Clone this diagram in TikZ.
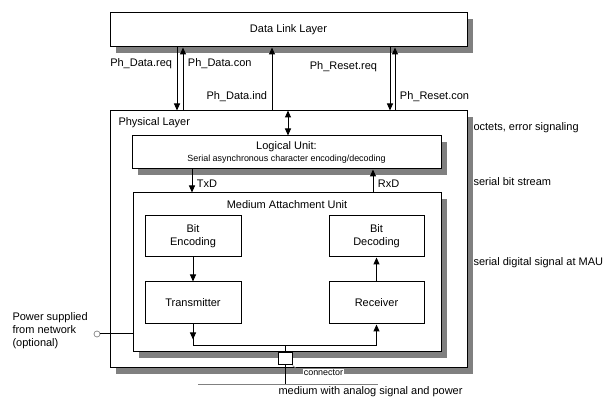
\documentclass[tikz,border=0pt]{standalone}
\usepackage{fontspec}
\setmainfont{Liberation Sans}
\usepackage{tikz}
\usetikzlibrary{
    calc,
    arrows.meta,
    shadows % For the grey drop shadows
}
\newcommand{\smallfont}{\fontsize{6.7pt}{8pt}\selectfont}
\tikzset{
    every node/.style={font=\fontsize{8.25pt}{9.75pt}\selectfont},
    box/.style 2 args={draw, fill=white, inner sep=0pt, align=center,
        minimum width=#1*0.75pt, minimum height=#2*0.75pt},
    dropgray/.style={drop shadow={shadow xshift=4.5pt, shadow yshift=-4.5pt, opacity=1, fill=gray}},
    lbl/.style={anchor=west, inner sep=0pt},
    >={Triangle[length=5.25pt, width=4.5pt]},
}

\begin{document}
\begin{tikzpicture}[x=0.75pt, y=-0.75pt, line width=0.75pt]
        \useasboundingbox (0,0) rectangle (606,398);

        % layers
        \draw (288.5,30) node[box={357}{34}, dropgray](dll){Data Link Layer};
        \draw (288.5,239.5) node[box={357}{257}, dropgray](phy){};
        \draw (286.5,152.5) node[box={309}{33}, dropgray](lu){Logical Unit:\\[-0.5pt]{\smallfont Serial asynchronous character encoding/decoding}};
        \draw (287,272.5) node[box={308}{159}, dropgray](mau){};
        \draw (118,123) node[lbl](phylbl){Physical Layer};
        \draw (287,205) node(maulbl){Medium Attachment Unit};

        % inside the MAU
        \draw (193,236.5) node[box={96}{41}](benc){Bit\\Encoding};
        \draw (376.5,236.5) node[box={95}{41}](bdec){Bit\\Decoding};
        \draw (193,303) node[box={96}{42}](tx){Transmitter};
        \draw (376.5,303) node[box={95}{42}](rx){Receiver};

        % service primitives
        \draw[->] (177,0 |- dll.south) to node[pos=.25, left]{Ph\_Data.req} (177,0 |- phy.north);
        \draw[<-] (183,0 |- dll.south) to node[pos=.25, right]{Ph\_Data.con} (183,0 |- phy.north);
        \draw[<-] (272,0 |- dll.south) to node[pos=.78, left]{Ph\_Data.ind} (272,0 |- phy.north);
        \draw[->] (390,0 |- dll.south) to node[pos=.31, left=6pt]{Ph\_Reset.req} (390,0 |- phy.north);
        \draw[<-] (395,0 |- dll.south) to node[pos=.78, right]{Ph\_Reset.con} (395,0 |- phy.north);
        \draw[<->] (288,0 |- phy.north) to (288,0 |- lu.north);

        \draw[->] (192,0 |- lu.south) to node[pos=.6, right]{TxD} (192,0 |- mau.north);
        \draw[<-] (373,0 |- lu.south) to node[pos=.6, right]{RxD} (373,0 |- mau.north);
        \draw[->] (benc) to (tx);
        \draw[->] (rx) to (bdec);

        % bus and connector
        \coordinate (bus) at (285,346);
        \coordinate (medl) at (198,385);
        \coordinate (medr) at (378,385);
        \draw (tx.south) -- (tx.south |- bus) -- (rx.south |- bus);
        \draw[->] (tx.south) -- ++(0,15);
        \draw[->] (rx.south |- bus) to (rx.south);
        \draw (bus) -- (bus |- medl);
        \draw[gray] (medl) -- (medr);
        \draw (285,359) node[draw, fill=white, inner sep=0pt, minimum width=10.5pt, minimum height=9pt](conn){};
        \draw (302,373) node[lbl, fill=white, inner sep=1pt, font=\smallfont](cnlbl){connector};
        \draw[gray, line width=0.5pt] (conn.south east) -- (cnlbl.west);
        \draw (278,392) node[lbl](medlbl){medium with analog signal and power};

        % power input
        \draw (97,334) node[circle, draw=gray, fill=white, inner sep=0pt, minimum size=4.5pt, line width=0.5pt](pwr){};
        \draw (pwr) -- (pwr -| mau.west);
        \draw (12,331) node[lbl, align=left](pwrlbl){Power supplied\\from network\\(optional)};

        % right hand side
        \draw (473,128) node[lbl](oct){octets, error signaling};
        \draw (473,182) node[lbl](bits){serial bit stream};
        \draw (473,263) node[lbl](sig){serial digital signal at MAU};
    \end{tikzpicture}
\end{document}
